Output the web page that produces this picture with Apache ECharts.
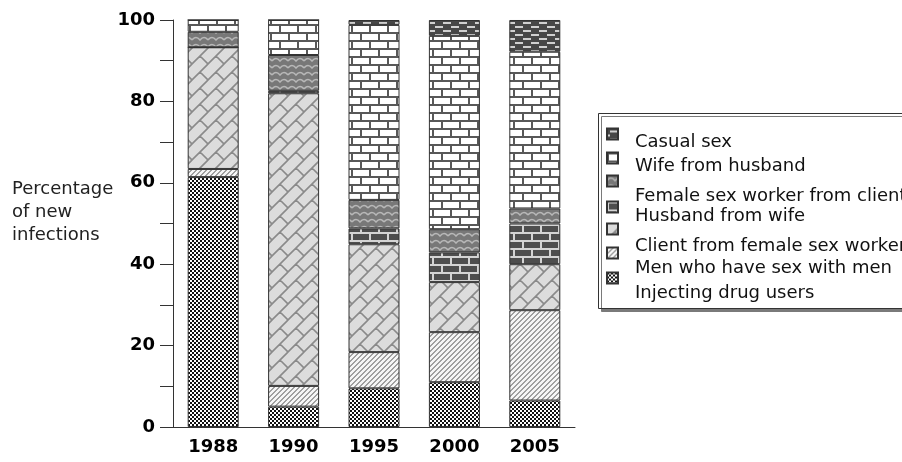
<!DOCTYPE html>
<html>
<head>
<meta charset="utf-8">
<script src="https://cdn.jsdelivr.net/npm/echarts@6/dist/echarts.min.js"></script>
<style>
  html, body { margin: 0; padding: 0; background: #fff; }
  #chart { width: 902px; height: 462px; }
</style>
</head>
<body>
<div id="chart"></div>
<script>
// data (percent of new infections)
const years = ['1988', '1990', '1995', '2000', '2005']
const injecting = [61.4, 5.0, 9.5, 11.0, 6.5]
const msm = [2.0, 5.1, 8.9, 12.3, 22.2]
const clientFsw = [29.9, 71.9, 26.5, 12.3, 11.3]
const husbandWife = [0, 0.6, 3.9, 7.3, 10.0]
const fswClient = [3.8, 8.8, 7.0, 5.7, 3.7]
const wifeHusband = [2.9, 8.6, 43.0, 47.5, 38.5]
const casual = [0, 0, 1.2, 3.9, 7.8]

const seriesNames = [
  'Injecting drug users',
  'Men who have sex with men',
  'Client from female sex worker',
  'Husband from wife',
  'Female sex worker from client',
  'Wife from husband',
  'Casual sex'
]
const seriesValues = [injecting, msm, clientFsw, husbandWife, fswClient, wifeHusband, casual]

// legend rows, top to bottom (icon centre / text centre, px)
const legendOrder = [6, 5, 4, 3, 2, 1, 0]
const iconCentres = [133, 157, 180, 206, 228, 252, 277]
const textCentres = [142, 166, 196, 216, 246, 268, 293]

const FONT = '"DejaVu Sans", "Liberation Sans", sans-serif'

function tile(w, h, draw) {
  const c = document.createElement('canvas')
  c.width = w
  c.height = h
  draw(c.getContext('2d'), w, h)
  return { image: c, repeat: 'repeat' }
}

// fill patterns, one per series
const patterns = [
  // injecting drug users: fine checker
  tile(4, 4, g => {
    g.fillStyle = '#fff'
    g.fillRect(0, 0, 4, 4)
    g.fillStyle = '#111'
    g.fillRect(0, 0, 2, 2)
    g.fillRect(2, 2, 2, 2)
  }),
  // men who have sex with men: light "/" stripes
  tile(5, 5, g => {
    for (let x = 0; x < 5; x++) {
      for (let y = 0; y < 5; y++) {
        g.fillStyle = (x + y) % 5 < 2 ? '#a0a0a0' : '#f6f6f6'
        g.fillRect(x, y, 1, 1)
      }
    }
  }),
  // client from FSW: diagonal bricks
  tile(16, 16, g => {
    g.fillStyle = '#dcdcdc'
    g.fillRect(0, 0, 16, 16)
    const H = 16 / Math.SQRT2
    const L = 2 * H
    g.translate(8, 8)
    g.rotate(-Math.PI / 4)
    g.strokeStyle = '#8a8a8a'
    g.lineWidth = 1.6
    g.beginPath()
    for (let k = -4; k <= 4; k++) {
      g.moveTo(-40, k * H)
      g.lineTo(40, k * H)
      const off = (k % 2 === 0) ? 0 : L / 2
      for (let j = -4; j <= 4; j++) {
        g.moveTo(j * L + off, k * H)
        g.lineTo(j * L + off, (k + 1) * H)
      }
    }
    g.stroke()
  }),
  // husband from wife: dark bricks
  tile(18, 16, g => {
    g.fillStyle = '#d4d4d4'
    g.fillRect(0, 0, 18, 16)
    g.fillStyle = '#4e4e4e'
    g.fillRect(2, 2, 16, 6)
    g.fillRect(0, 10, 9, 6)
    g.fillRect(11, 10, 7, 6)
  }),
  // FSW from client: grey with light waves
  tile(16, 7, g => {
    g.fillStyle = '#787878'
    g.fillRect(0, 0, 16, 7)
    g.strokeStyle = '#b8b8b8'
    g.lineWidth = 1.5
    g.beginPath()
    g.moveTo(0, 5)
    g.quadraticCurveTo(4, 0, 8, 5)
    g.quadraticCurveTo(12, 0, 16, 5)
    g.stroke()
  }),
  // wife from husband: white bricks
  tile(18, 16, g => {
    g.fillStyle = '#585858'
    g.fillRect(0, 0, 18, 16)
    g.fillStyle = '#fff'
    g.fillRect(2, 2, 16, 6)
    g.fillRect(0, 10, 9, 6)
    g.fillRect(11, 10, 7, 6)
  }),
  // casual sex: dark with light dashes
  tile(16, 8, g => {
    g.fillStyle = '#474747'
    g.fillRect(0, 0, 16, 8)
    g.fillStyle = '#d0d0d0'
    g.fillRect(3, 2, 8, 2)
    g.fillRect(11, 6, 5, 2)
    g.fillRect(0, 6, 3, 2)
  })
]

const chart = echarts.init(document.getElementById('chart'), null, { renderer: 'canvas' })

const series = seriesNames.map((name, i) => ({
  name: name,
  type: 'bar',
  stack: 'total',
  barWidth: 51,
  data: seriesValues[i],
  itemStyle: {
    color: patterns[i],
    borderColor: '#333',
    borderWidth: 1
  }
}))

// icons and names sit at slightly different heights in the original,
// so each row gets an icon-only legend and a text-only legend
const legends = []
legendOrder.forEach((si, row) => {
  legends.push({
    data: [seriesNames[si]],
    left: 606,
    top: iconCentres[row] - 5.5,
    padding: 0,
    icon: 'rect',
    itemWidth: 11,
    itemHeight: 11,
    selectedMode: false,
    formatter: () => '',
    textStyle: { fontSize: 10, lineHeight: 11 }
  })
  legends.push({
    data: [seriesNames[si]],
    left: 630,
    top: textCentres[row] - 9,
    padding: 0,
    icon: 'none',
    itemWidth: 0,
    itemHeight: 18,
    selectedMode: false,
    textStyle: {
      fontFamily: FONT,
      fontSize: 18,
      lineHeight: 18,
      color: '#111'
    }
  })
})

chart.setOption({
  animation: false,
  grid: { left: 173, right: 327, top: 20, bottom: 35 },
  xAxis: {
    type: 'category',
    data: years,
    axisLine: { lineStyle: { color: '#333', width: 1 } },
    axisTick: { show: false },
    axisLabel: {
      margin: 11,
      fontFamily: FONT,
      fontSize: 18,
      fontWeight: 'bold',
      color: '#000'
    }
  },
  yAxis: {
    type: 'value',
    min: 0,
    max: 100,
    interval: 10,
    splitLine: { show: false },
    axisLine: { show: true, lineStyle: { color: '#333', width: 1 } },
    axisTick: { show: true, length: 13, lineStyle: { color: '#333' } },
    axisLabel: {
      margin: 18,
      fontFamily: FONT,
      fontSize: 18,
      fontWeight: 'bold',
      color: '#000',
      formatter: v => (v % 20 === 0 ? String(v) : '')
    }
  },
  legend: legends,
  graphic: [
    {
      type: 'rect',
      z: 0,
      shape: { x: 598.5, y: 113.5, width: 330, height: 195 },
      style: {
        fill: '#fff',
        stroke: '#333',
        lineWidth: 1,
        shadowBlur: 0,
        shadowOffsetX: 3,
        shadowOffsetY: 3,
        shadowColor: '#7a7a7a'
      }
    },
    {
      type: 'text',
      left: 12,
      top: 178,
      style: {
        text: 'Percentage\nof new\ninfections',
        font: '18px ' + FONT,
        lineHeight: 23,
        fill: '#222'
      }
    }
  ],
  series: series
})
</script>
</body>
</html>
